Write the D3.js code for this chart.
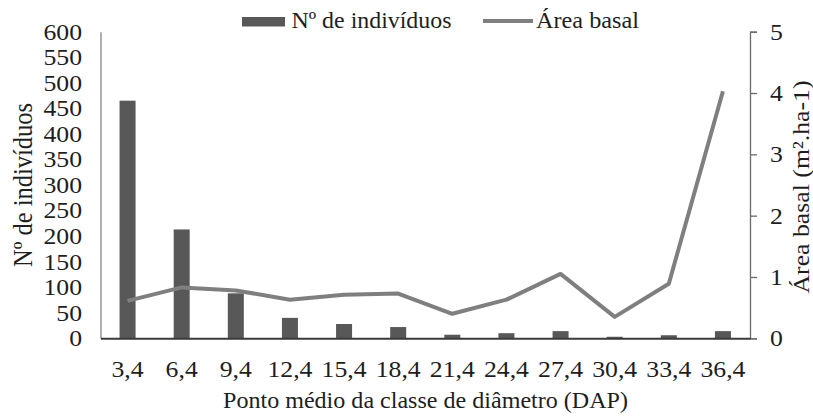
<!DOCTYPE html>
<html><head><meta charset="utf-8">
<script src="https://cdn.jsdelivr.net/npm/d3@7"></script>
<style>body{margin:0;background:#fff}svg{display:block}</style>
</head><body><svg id="c" width="813" height="417"></svg>
<script>
const categories = ["3,4","6,4","9,4","12,4","15,4","18,4","21,4","24,4","27,4","30,4","33,4","36,4"];
const individuos = [465, 213, 88, 40, 28, 22, 7, 10, 14, 3, 6, 14];
const areaBasal = [0.61, 0.83, 0.78, 0.63, 0.71, 0.73, 0.40, 0.63, 1.05, 0.35, 0.89, 4.03];
const leftTicks = [0,50,100,150,200,250,300,350,400,450,500,550,600];
const rightTicks = [0,1,2,3,4,5];

const FONT = '"Liberation Serif", monospace';
const svg = d3.select("#c");
const L = 100.5, R = 750, T = 31.7, B = 338.3;
const x = d3.scaleBand().domain(categories).range([L, R]);
const yL = d3.scaleLinear().domain([0, 600]).range([B, T]);
const yR = d3.scaleLinear().domain([0, 5]).range([B, T]);
const fs = 23, SX = 1.12;
function styleText(sel, size){ return sel.attr("font-size", size || fs).attr("font-family", null).style("font-family", FONT).attr("fill", "#1e1e1e"); }
function stretch(sel){
  sel.each(function(){
    const t = d3.select(this); const ax = +t.attr("x") || 0;
    t.attr("transform", `translate(${ax},0) scale(${SX},1) translate(${-ax},0)`);
  });
}

// bars
svg.append("g").selectAll("rect").data(categories).join("rect")
  .attr("x", d => x(d) + x.bandwidth()/2 - 8)
  .attr("width", 16)
  .attr("y", (d,i) => yL(individuos[i]))
  .attr("height", (d,i) => B - yL(individuos[i]))
  .attr("fill", "#585858");

// left axis (no ticks)
const gl = svg.append("g").attr("transform", `translate(${L},0)`)
  .call(d3.axisLeft(yL).tickValues(leftTicks).tickSize(0).tickPadding(18.5));
gl.attr("font-family", null);
gl.select(".domain").attr("stroke", "#7a7a7a").attr("stroke-width", 1.2);
styleText(gl.selectAll("text")); stretch(gl.selectAll("text"));

// right axis
const gr = svg.append("g").attr("transform", `translate(${R},0)`)
  .call(d3.axisRight(yR).tickValues(rightTicks).tickFormat(d3.format("d")).tickSize(7).tickPadding(13));
gr.attr("font-family", null);
gr.select(".domain").attr("stroke", "#6a6a6a").attr("stroke-width", 1.3);
gr.selectAll(".tick line").attr("stroke", "#6a6a6a").attr("stroke-width", 1.3);
styleText(gr.selectAll("text")); stretch(gr.selectAll("text"));

// x axis
const gx = svg.append("g").attr("transform", `translate(0,${B})`)
  .call(d3.axisBottom(x).tickSize(0).tickPadding(22));
gx.attr("font-family", null);
gx.select(".domain").attr("stroke", "#3a3a3a").attr("stroke-width", 2);
styleText(gx.selectAll("text")); stretch(gx.selectAll("text"));

// line
const line = d3.line().x((d,i) => x(categories[i]) + x.bandwidth()/2).y(d => yR(d));
svg.append("path").datum(areaBasal).attr("d", line)
  .attr("fill", "none").attr("stroke", "#7f7f7f").attr("stroke-width", 4).attr("stroke-linejoin", "round");

// titles
styleText(svg.append("text").attr("x", 223).attr("y", 408)
  .attr("textLength", 405).attr("lengthAdjust", "spacingAndGlyphs")
  .text("Ponto médio da classe de diâmetro (DAP)"));
styleText(svg.append("text").attr("transform", `translate(32,185) scale(${SX},1) rotate(-90)`).attr("text-anchor", "middle")
  .attr("textLength", 164).attr("lengthAdjust", "spacingAndGlyphs")
  .text("Nº de indivíduos"), 24);
styleText(svg.append("text").attr("transform", `translate(809,187) rotate(-90)`).attr("text-anchor", "middle")
  .attr("textLength", 213).attr("lengthAdjust", "spacingAndGlyphs")
  .text("Área basal (m².ha-1)"), 23);

// legend
svg.append("rect").attr("x", 242).attr("y", 17).attr("width", 43).attr("height", 9.5).attr("fill", "#585858");
styleText(svg.append("text").attr("x", 291.5).attr("y", 28)
  .attr("textLength", 160).attr("lengthAdjust", "spacingAndGlyphs").text("Nº de indivíduos"));
svg.append("line").attr("x1", 483).attr("x2", 533).attr("y1", 21).attr("y2", 21).attr("stroke", "#7f7f7f").attr("stroke-width", 4);
styleText(svg.append("text").attr("x", 536).attr("y", 28)
  .attr("textLength", 103).attr("lengthAdjust", "spacingAndGlyphs").text("Área basal"));
</script></body></html>
